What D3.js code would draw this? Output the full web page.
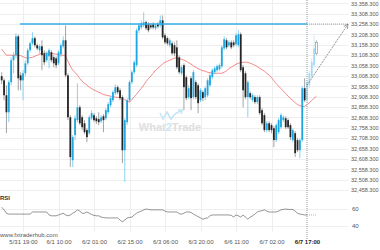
<!DOCTYPE html>
<html lang="en">
<head>
<meta charset="utf-8">
<title>candles + RSI</title>
<script src="https://cdnjs.cloudflare.com/ajax/libs/d3/7.8.5/d3.min.js"></script>
<style>
    body { margin: 0; background: #fff; }
    svg { display: block; font-family: "Liberation Sans", Arial, sans-serif; }
    .grid line { stroke: #eeeeee; stroke-width: 1px; shape-rendering: crispEdges; }
    .axis text { fill: #555; font-size: 6px; }
    .yaxis text { font-size: 5.5px; }
</style>
</head>
<body>
<div id="chart"></div>
<script>
// hourly candles, 5/31 10:00 .. 6/7 17:00
var open = [33007,32987,32915,32833,32978,33084,33108,33199,33011,32987,
    33021,33069,33132,33165,33190,33156,33132,33151,33117,33084,
    33103,33122,33098,33093,33069,33112,33151,33180,33011,32809,
    32602,32723,32795,32857,32809,32780,32747,32732,32804,32819,
    32804,32800,32790,32814,32804,32833,32867,32891,32925,32954,
    32939,32906,32650,32785,32891,32978,33026,33060,33228,33242,
    33252,33267,33257,33252,33257,33238,33257,33252,33276,33204,
    33190,33156,33165,33156,33146,33098,33021,33060,33002,32906,
    32997,32906,32978,32963,32891,32930,32906,32915,32963,33002,
    33026,33036,33040,33055,33141,33180,33156,33170,33170,33161,
    33156,33209,33050,33021,32906,32925,32891,32906,32882,32906,
    32843,32819,32747,32780,32771,32756,32699,32737,32761,32795,
    32804,32795,32771,32699,32732,32699,32650,32699,32949];
var high = [33026,32997,32963,32987,33098,33122,33214,33209,33026,33036,
    33084,33141,33175,33218,33199,33165,33161,33180,33132,33127,
    33141,33132,33108,33103,33132,33165,33199,33252,33021,32819,
    32723,32819,32973,32867,32819,32795,32756,32819,32843,32829,
    32814,32833,32819,32824,32853,32882,32910,32939,32968,32963,
    32949,32915,32804,32901,32987,33036,33084,33238,33262,33276,
    33315,33276,33267,33262,33267,33262,33267,33300,33300,33214,
    33199,33190,33175,33170,33180,33108,33060,33069,33011,32963,
    33007,33036,32987,32973,32949,32939,32958,32997,33021,33045,
    33055,33064,33069,33156,33199,33190,33180,33180,33180,33214,
    33228,33218,33060,33031,32987,32934,32925,32915,32915,32915,
    32853,32829,32790,32790,32780,32766,32780,32804,32829,32819,
    32814,32804,32780,32756,32742,32708,32708,32958,32997];
var low = [32968,32891,32732,32785,32963,33021,33093,32939,32939,32891,
    33007,33060,33122,33156,33146,33132,33117,33036,33060,33074,
    33045,33074,33050,33045,33060,33098,33141,33002,32795,32569,
    32569,32699,32785,32771,32747,32727,32689,32723,32795,32785,
    32776,32771,32780,32737,32795,32824,32857,32882,32915,32920,
    32891,32588,32497,32771,32882,32968,33016,33050,33214,33233,
    33242,33228,33218,33233,33233,33228,33238,33242,33185,33161,
    33156,33146,33108,33103,33040,33016,33011,32843,32891,32896,
    32843,32896,32896,32829,32882,32886,32891,32906,32954,32992,
    33016,33026,33031,33045,33132,33137,33146,33137,33146,33151,
    33146,33026,32857,32896,32809,32896,32882,32872,32872,32819,
    32771,32737,32737,32737,32732,32665,32689,32727,32752,32785,
    32752,32752,32699,32689,32617,32641,32612,32689,32882];
var close = [32987,32915,32833,32978,33084,33108,33199,32997,32987,33021,
    33069,33132,33165,33190,33156,33141,33151,33108,33074,33117,
    33132,33084,33069,33060,33122,33156,33180,33011,32809,32617,
    32713,32804,32857,32780,32761,32737,32713,32809,32829,32795,
    32790,32785,32809,32795,32843,32872,32901,32930,32954,32930,
    32901,32650,32795,32891,32978,33026,33074,33228,33252,33262,
    33267,33238,33228,33242,33242,33252,33247,33276,33194,33170,
    33165,33180,33117,33117,33050,33026,33050,32954,32901,32949,
    32901,33026,32906,32877,32939,32901,32949,32987,33011,33036,
    33045,33055,33060,33146,33185,33146,33170,33146,33156,33204,
    33209,33036,32939,32906,32978,32906,32915,32882,32906,32829,
    32780,32747,32780,32747,32747,32699,32771,32795,32819,32809,
    32761,32761,32713,32747,32636,32650,32699,32949,32891];

// candles drawn after the signal (faded)
var nextOpen  = [32891, 32963, 33007, 33060, 33117];
var nextHigh  = [32987, 33036, 33093, 33204, 33180];
var nextLow   = [32877, 32949, 32997, 33050, 33108];
var nextClose = [32978, 33021, 33074, 33141, 33170];

// red moving average, 0..133
var ma = [33137,33122,33108,33108,33108,33108,33108,33108,33106,33101,
    33096,33094,33096,33098,33103,33108,33113,33118,33118,33118,
    33118,33118,33115,33113,33110,33108,33108,33103,33079,33055,
    33036,33024,33012,32995,32983,32973,32964,32954,32947,32940,
    32935,32930,32925,32918,32916,32913,32911,32908,32906,32904,
    32904,32901,32894,32887,32882,32894,32908,32920,32935,32949,
    32964,32981,32995,33007,33021,33036,33045,33055,33067,33074,
    33079,33084,33089,33094,33094,33091,33089,33084,33079,33072,
    33065,33057,33050,33043,33038,33033,33031,33026,33024,33021,
    33021,33021,33021,33021,33026,33033,33043,33050,33057,33065,
    33069,33072,33074,33074,33074,33069,33065,33060,33053,33045,
    33038,33031,33021,33012,33000,32985,32971,32959,32947,32935,
    32923,32911,32899,32889,32879,32870,32865,32860,32862,32870,
    32879,32889,32901,32911];

var rsi = [62,59,55,54,54,54,54,54,54,54,
    54,54,54,56.5,56.5,56.5,56.5,56.5,56.5,56.5,
    53,52,52,52,53,54,55,53,52,53,
    55,56.5,59,57.5,55,55,56.5,55,53.5,52.5,
    52,52,50.5,50,49.5,49.5,49.5,49.5,49.5,49.5,
    47,45,47,49.5,50,50.5,53,55,56.5,57.5,
    59,60,59.5,59,59,59,59,59,59,57.5,
    56.5,56.5,56.5,56.5,56.5,54.5,54,55,56.5,56.5,
    56,54,52.5,51,49.5,48,49,49.5,52,53,
    53,53,53,53,53,53,53,52.5,50.5,53,
    52,50.5,53,50.5,48,50.5,52,54,56.5,57.5,
    58,59,57.5,56.5,56.5,56.5,56.5,57.5,59,59.5,
    60,59.5,59.5,59.5,57.5,55,54,53.5,53,53];

var priceTicks = [33358.3,33308.3,33258.3,33208.3,33158.3,33108.3,33058.3,33008.3,32958.3,
    32908.3,32858.3,32808.3,32758.3,32708.3,32658.3,32608.3,32558.3,32508.3,32458.3];
var rsiTicks = [60, 40];
var timeLabels = ["5/31 19:00","6/1 10:00","6/2 01:00","6/2 15:00","6/3 06:00",
    "6/3 20:00","6/6 11:00","6/7 02:00","6/7 17:00"];
var timeIdx = [9, 24, 39, 54, 69, 84, 99, 114, 129];
var level = 33258.3;      // resistance line
var signalIdx = 129, signalPrice = 32963;

var width = 380, height = 250, plotRight = 348;

var x = d3.scaleLinear().domain([0, 129]).range([1.7, 307]);
var y = d3.scaleLinear().domain([32458.3, 33358.3]).range([190, 3.3]);
var yR = d3.scaleLinear().domain([40, 60]).range([226, 209]);

var svg = d3.select("#chart").append("svg")
    .attr("width", width)
    .attr("height", height);

svg.append("defs").append("marker")
    .attr("id", "arrow")
    .attr("viewBox", "0 0 10 10")
    .attr("refX", 9).attr("refY", 5)
    .attr("markerWidth", 7).attr("markerHeight", 7)
    .attr("orient", "auto")
  .append("path")
    .attr("d", "M1,1L9,5L1,9")
    .attr("fill", "none")
    .attr("stroke", "#777")
    .attr("stroke-width", 1.2);

// grid
svg.append("g").attr("class", "grid")
    .call(d3.axisRight(y).tickValues(priceTicks).tickSize(plotRight).tickFormat(""))
    .call(function(g) { g.select(".domain").remove(); });
svg.append("g").attr("class", "grid")
    .call(d3.axisRight(yR).tickValues(rsiTicks).tickSize(plotRight).tickFormat(""))
    .call(function(g) { g.select(".domain").remove(); });
svg.append("g").attr("class", "grid")
    .call(d3.axisBottom(x).tickValues(timeIdx.slice(0, -1)).tickSize(232).tickFormat(""))
    .call(function(g) { g.select(".domain").remove(); });

// watermark
var wm = svg.append("g").attr("opacity", 0.9);
wm.append("path")
    .attr("d", "M160,113L163,119L167,112L171,119L175,114L182,110M178,110L182,110L181,114")
    .attr("fill", "none").attr("stroke", "#bfe3f5").attr("stroke-width", 1.6);
var wt = wm.append("text").attr("x", 170).attr("y", 131).attr("text-anchor", "middle")
    .attr("font-size", 11).attr("font-weight", "bold").attr("fill", "#dcdcdc");
wt.append("tspan").text("What");
wt.append("tspan").attr("fill", "#c4e6f6").text("2");
wt.append("tspan").text("Trade");

// moving average
svg.append("path")
    .datum(ma)
    .attr("fill", "none")
    .attr("stroke", "#f26b6b")
    .attr("stroke-width", 0.8)
    .attr("d", d3.line().x(function(d, i) { return x(i); }).y(function(d) { return y(d); }));

// candles
var candles = d3.range(open.length).map(function(i) {
    return {i: i, o: open[i], h: high[i], l: low[i], c: close[i]};
});
var bw = 1.8;
var cg = svg.append("g").selectAll("g").data(candles).join("g");
cg.append("line")
    .attr("x1", function(d) { return x(d.i); }).attr("x2", function(d) { return x(d.i); })
    .attr("y1", function(d) { return y(d.h); }).attr("y2", function(d) { return y(d.l); })
    .attr("stroke", function(d) { return d.c >= d.o ? "#6cc6ee" : "#8c8c8c"; })
    .attr("stroke-width", 0.8);
cg.append("rect")
    .attr("x", function(d) { return x(d.i) - bw / 2; })
    .attr("width", bw)
    .attr("y", function(d) { return y(Math.max(d.o, d.c)); })
    .attr("height", function(d) { return Math.max(0.8, Math.abs(y(d.o) - y(d.c))); })
    .attr("fill", function(d) { return d.c >= d.o ? "#1da6e2" : "#262626"; });

var next = d3.range(nextOpen.length).map(function(k) {
    return {i: signalIdx + k, o: nextOpen[k], h: nextHigh[k], l: nextLow[k], c: nextClose[k], last: k == nextOpen.length - 1};
});
var ng = svg.append("g").selectAll("g").data(next).join("g");
ng.append("line")
    .attr("x1", function(d) { return x(d.i); }).attr("x2", function(d) { return x(d.i); })
    .attr("y1", function(d) { return y(d.h); }).attr("y2", function(d) { return y(d.l); })
    .attr("stroke", function(d) { return d.last ? "#aaa" : "#bfe6f7"; })
    .attr("stroke-width", 0.8);
ng.append("rect")
    .attr("x", function(d) { return x(d.i) - bw / 2; })
    .attr("width", bw)
    .attr("y", function(d) { return y(Math.max(d.o, d.c)); })
    .attr("height", function(d) { return Math.abs(y(d.o) - y(d.c)); })
    .attr("fill", function(d) { return d.last ? "#fff" : "#a6dbf3"; })
    .attr("stroke", function(d) { return d.last ? "#999" : "none"; })
    .attr("stroke-width", 0.7);

// resistance level
svg.append("line")
    .attr("x1", 20).attr("x2", x(signalIdx))
    .attr("y1", y(level)).attr("y2", y(level))
    .attr("stroke", "#34ade3").attr("stroke-width", 1.4);
svg.append("line")
    .attr("x1", x(signalIdx)).attr("x2", plotRight)
    .attr("y1", y(level)).attr("y2", y(level))
    .attr("stroke", "#888").attr("stroke-width", 0.8).attr("stroke-dasharray", "1,1");

// signal time marker
svg.append("line")
    .attr("x1", x(signalIdx)).attr("x2", x(signalIdx))
    .attr("y1", 0).attr("y2", 239)
    .attr("stroke", "#8a9aa0").attr("stroke-width", 1).attr("stroke-dasharray", "1,1");

// projection arrow
svg.append("line")
    .attr("x1", x(signalIdx)).attr("y1", y(signalPrice))
    .attr("x2", plotRight).attr("y2", y(level))
    .attr("stroke", "#777").attr("stroke-width", 0.8)
    .attr("stroke-dasharray", "2,1")
    .attr("marker-end", "url(#arrow)");

// RSI
svg.append("text").attr("x", 0).attr("y", 200)
    .attr("font-size", 6).attr("font-weight", "bold").attr("fill", "#333").text("RSI");
svg.append("path")
    .datum(rsi)
    .attr("fill", "none").attr("stroke", "#666").attr("stroke-width", 0.7)
    .attr("d", d3.line().x(function(d, i) { return x(i); }).y(function(d) { return yR(d); }));
svg.append("line")
    .attr("x1", x(signalIdx)).attr("x2", x(signalIdx + nextOpen.length - 1))
    .attr("y1", yR(rsi[signalIdx])).attr("y2", yR(rsi[signalIdx]))
    .attr("stroke", "#999").attr("stroke-width", 0.7).attr("stroke-dasharray", "1,1");

// axes
svg.append("g").attr("class", "axis yaxis")
    .attr("transform", "translate(350,0)")
    .call(d3.axisRight(y).tickValues(priceTicks).tickSize(0).tickPadding(1).tickFormat(d3.format(",.3f")))
    .call(function(g) { g.select(".domain").remove(); });
svg.append("g").attr("class", "axis")
    .attr("transform", "translate(350,0)")
    .call(d3.axisRight(yR).tickValues(rsiTicks).tickSize(0).tickPadding(2))
    .call(function(g) { g.select(".domain").remove(); });
var xa = svg.append("g").attr("class", "axis")
    .attr("transform", "translate(0,240)")
    .call(d3.axisBottom(x).tickValues(timeIdx).tickSize(0).tickPadding(0)
        .tickFormat(function(d, i) { return timeLabels[i]; }))
    .call(function(g) { g.select(".domain").remove(); });
xa.selectAll("text").filter(function(d) { return d == signalIdx; })
    .attr("font-weight", "bold").style("fill", "#222");

svg.append("text").attr("x", 0).attr("y", 237)
    .attr("font-size", 6).attr("fill", "#555").text("www.fxtraderhub.com");
</script>
</body>
</html>
